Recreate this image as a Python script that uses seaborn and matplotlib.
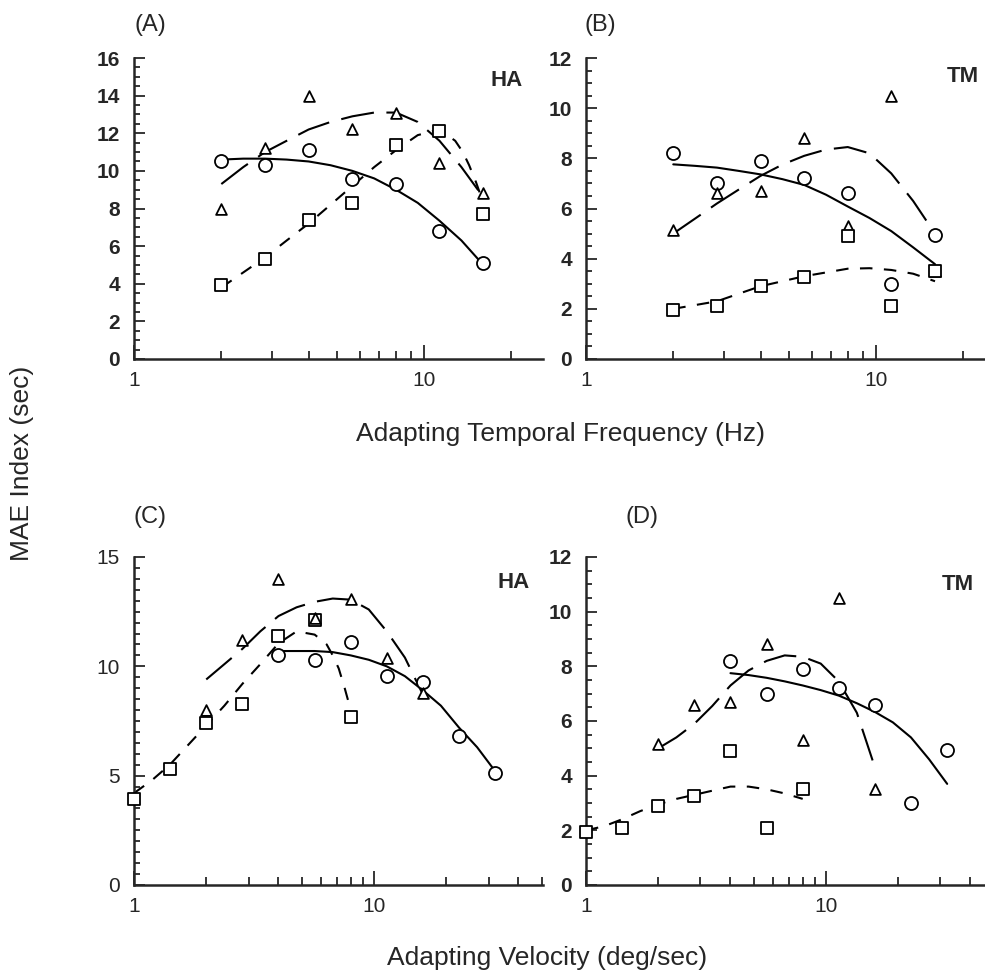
import matplotlib
matplotlib.use("Agg")
import matplotlib.pyplot as plt
import matplotlib.ticker as mticker
import seaborn as sns

# x positions of the data (octave / half-octave steps)
tf = [2, 2.83, 4, 5.66, 8, 11.3, 16]
vel_square = [1, 1.41, 2, 2.83, 4, 5.66, 8]
vel_triangle = [2, 2.83, 4, 5.66, 8, 11.3, 16]
vel_circle = [4, 5.66, 8, 11.3, 16, 22.6, 32]

# MAE index (sec), observer HA
ha_circle = [10.5, 10.3, 11.1, 9.55, 9.3, 6.8, 5.1]
ha_triangle = [8.0, 11.2, 14.0, 12.2, 13.1, 10.4, 8.8]
ha_square = [3.95, 5.3, 7.4, 8.3, 11.4, 12.1, 7.7]

# MAE index (sec), observer TM
tm_circle = [8.2, 7.0, 7.9, 7.2, 6.6, 3.0, 4.95]
tm_triangle = [5.15, 6.6, 6.7, 8.8, 5.3, 10.5, 3.5]
tm_square = [1.95, 2.1, 2.9, 3.25, 4.9, 2.1, 3.5]

# fitted curves
grid = [2, 2.38, 2.83, 3.36, 4, 4.76, 5.66, 6.73, 8, 9.51, 11.3, 13.45, 16]
a_circle_fit = [10.6, 10.65, 10.65, 10.6, 10.5, 10.3, 10.0, 9.6, 9.0, 8.3, 7.35, 6.3, 5.0]
a_triangle_fit = [9.3, 10.2, 11.0, 11.6, 12.2, 12.6, 12.9, 13.1, 13.1, 12.6, 11.6, 10.2, 8.6]
a_square_x = [2, 2.38, 2.83, 3.36, 4, 4.76, 5.66, 6.73, 8, 9.51, 11.3, 12.8, 13.6, 14.3, 15.1, 16]
a_square_fit = [3.8, 4.6, 5.4, 6.3, 7.2, 8.2, 9.2, 10.2, 11.1, 11.9, 12.2, 11.6, 11.0, 10.3, 9.4, 8.3]

b_circle_fit = [7.76, 7.7, 7.63, 7.5, 7.36, 7.17, 6.94, 6.55, 6.08, 5.62, 5.1, 4.45, 3.78]
b_triangle_fit = [5.0, 5.6, 6.2, 6.75, 7.3, 7.75, 8.1, 8.35, 8.45, 8.2, 7.4, 6.3, 5.0]
b_square_fit = [2.0, 2.15, 2.3, 2.6, 2.9, 3.1, 3.3, 3.45, 3.6, 3.62, 3.55, 3.4, 3.1]

c_circle_x = [4, 4.76, 5.66, 6.73, 8, 9.51, 11.3, 13.45, 16, 19, 22.6, 26.9, 32]
c_circle_fit = [10.7, 10.7, 10.7, 10.65, 10.5, 10.3, 10.0, 9.55, 8.9, 8.2, 7.2, 6.3, 5.2]
c_triangle_fit = [9.4, 10.1, 10.8, 11.6, 12.3, 12.7, 12.95, 13.1, 13.05, 12.6, 11.6, 10.4, 8.7]
c_square_x = [1, 1.19, 1.41, 1.68, 2, 2.38, 2.83, 3.36, 4, 4.76, 5.66, 6.35, 6.73, 7.13, 7.55, 8]
c_square_fit = [4.2, 4.8, 5.5, 6.4, 7.3, 8.2, 9.2, 10.1, 11.05, 11.6, 11.45, 11.0, 10.5, 9.9, 9.0, 8.0]

d_circle_fit = [7.75, 7.68, 7.58, 7.45, 7.3, 7.13, 6.93, 6.65, 6.33, 5.95, 5.4, 4.6, 3.7]
d_triangle_fit = [5.0, 5.4, 5.9, 6.55, 7.3, 7.85, 8.2, 8.4, 8.35, 8.1, 7.45, 6.3, 4.3]
d_square_x = [1, 1.19, 1.41, 1.68, 2, 2.38, 2.83, 3.36, 4, 4.76, 5.66, 6.73, 8]
d_square_fit = [2.0, 2.15, 2.4, 2.7, 2.95, 3.15, 3.3, 3.45, 3.6, 3.6, 3.5, 3.35, 3.15]

sns.set_style("ticks")
plt.rcParams['font.family'] = ['Liberation Sans', 'DejaVu Sans']

W, H = 985, 974
fig = plt.figure(figsize=(W / 100, H / 100), dpi=100)


def rect(left, top, right, bottom):
    return [left / W, 1 - bottom / H, (right - left) / W, (bottom - top) / H]


def panel(ax, xmax, ymax, ymajor, curves, points, ybold=True):
    # fitted curves
    for x, y, ls in curves:
        sns.lineplot(x=x, y=y, ax=ax, color='black', lw=1.5, linestyle=ls,
                     sort=False, estimator=None, clip_on=False)
    # open symbols, later ones drawn on top
    for i, (x, y, m, s) in enumerate(points):
        sns.scatterplot(x=x, y=y, ax=ax, marker=m, s=s, color='white',
                        edgecolor='black', linewidth=1.3, zorder=4 + i, clip_on=False)
    ax.set_xscale('log')
    ax.set_xlim(1, xmax)
    ax.set_ylim(0, ymax)
    ax.set_xticks([1, 10])
    ax.set_xticklabels(['1', '10'])
    ax.xaxis.set_minor_locator(mticker.LogLocator(base=10, subs=range(2, 10)))
    ax.xaxis.set_minor_formatter(mticker.NullFormatter())
    ax.yaxis.set_major_locator(mticker.MultipleLocator(ymajor))
    ax.yaxis.set_minor_locator(mticker.MultipleLocator(0.5))
    ax.tick_params(which='both', direction='in', width=1.3, labelsize=15)
    ax.tick_params(axis='y', which='major', length=8, pad=10)
    ax.tick_params(axis='y', which='minor', length=4)
    ax.tick_params(axis='x', which='major', length=10, pad=9)
    ax.tick_params(axis='x', which='minor', length=6)
    if ybold:
        for t in ax.get_yticklabels():
            t.set_fontweight('bold')
    for s in ['top', 'right']:
        ax.spines[s].set_visible(False)
    for s in ['left', 'bottom']:
        ax.spines[s].set_linewidth(1.8)
    ax.set_xlabel('')
    ax.set_ylabel('')


long_dash = (0, (16, 6))
short_dash = (0, (6, 5.5))
S_O, S_T, S_S = 88, 60, 78

axA = fig.add_axes(rect(134, 58, 543, 359))
panel(axA, 25.7, 16, 2,
      [(grid, a_circle_fit, '-'), (grid, a_triangle_fit, long_dash),
       (a_square_x, a_square_fit, short_dash)],
      [(tf, ha_circle, 'o', S_O), (tf, ha_triangle, '^', S_T), (tf, ha_square, 's', S_S)])

axB = fig.add_axes(rect(586, 58, 985, 359))
panel(axB, 23.8, 12, 2,
      [(grid, b_circle_fit, '-'), (grid, b_triangle_fit, long_dash),
       (grid, b_square_fit, short_dash)],
      [(tf, tm_circle, 'o', S_O), (tf, tm_triangle, '^', S_T), (tf, tm_square, 's', S_S)])

axC = fig.add_axes(rect(134, 557, 543, 885))
panel(axC, 50.6, 15, 5,
      [(c_circle_x, c_circle_fit, '-'), (grid, c_triangle_fit, long_dash),
       (c_square_x, c_square_fit, short_dash)],
      [(vel_circle, ha_circle, 'o', S_O), (vel_square, ha_square, 's', S_S),
       (vel_triangle, ha_triangle, '^', S_T)], ybold=False)

axD = fig.add_axes(rect(586, 557, 985, 885))
panel(axD, 46, 12, 2,
      [(c_circle_x, d_circle_fit, '-'), (grid, d_triangle_fit, long_dash),
       (d_square_x, d_square_fit, short_dash)],
      [(vel_circle, tm_circle, 'o', S_O), (vel_triangle, tm_triangle, '^', S_T),
       (vel_square, tm_square, 's', S_S)])


def ftext(x, y, s, **kw):
    fig.text(x / W, 1 - y / H, s, ha='center', va='center', **kw)


ftext(150, 25, '(A)', fontsize=17)
ftext(600, 25, '(B)', fontsize=17)
ftext(150, 517, '(C)', fontsize=17)
ftext(642, 517, '(D)', fontsize=17)
ftext(507, 80, 'HA', fontsize=16, fontweight='bold')
ftext(963, 77, 'TM', fontsize=16, fontweight='bold')
ftext(514, 583, 'HA', fontsize=16, fontweight='bold')
ftext(958, 585, 'TM', fontsize=16, fontweight='bold')
ftext(560, 434, 'Adapting Temporal Frequency (Hz)', fontsize=19)
ftext(547, 958, 'Adapting Velocity (deg/sec)', fontsize=19)
ftext(22, 463, 'MAE Index (sec)', fontsize=19, rotation=90)

fig.savefig('out.png', dpi=100)
